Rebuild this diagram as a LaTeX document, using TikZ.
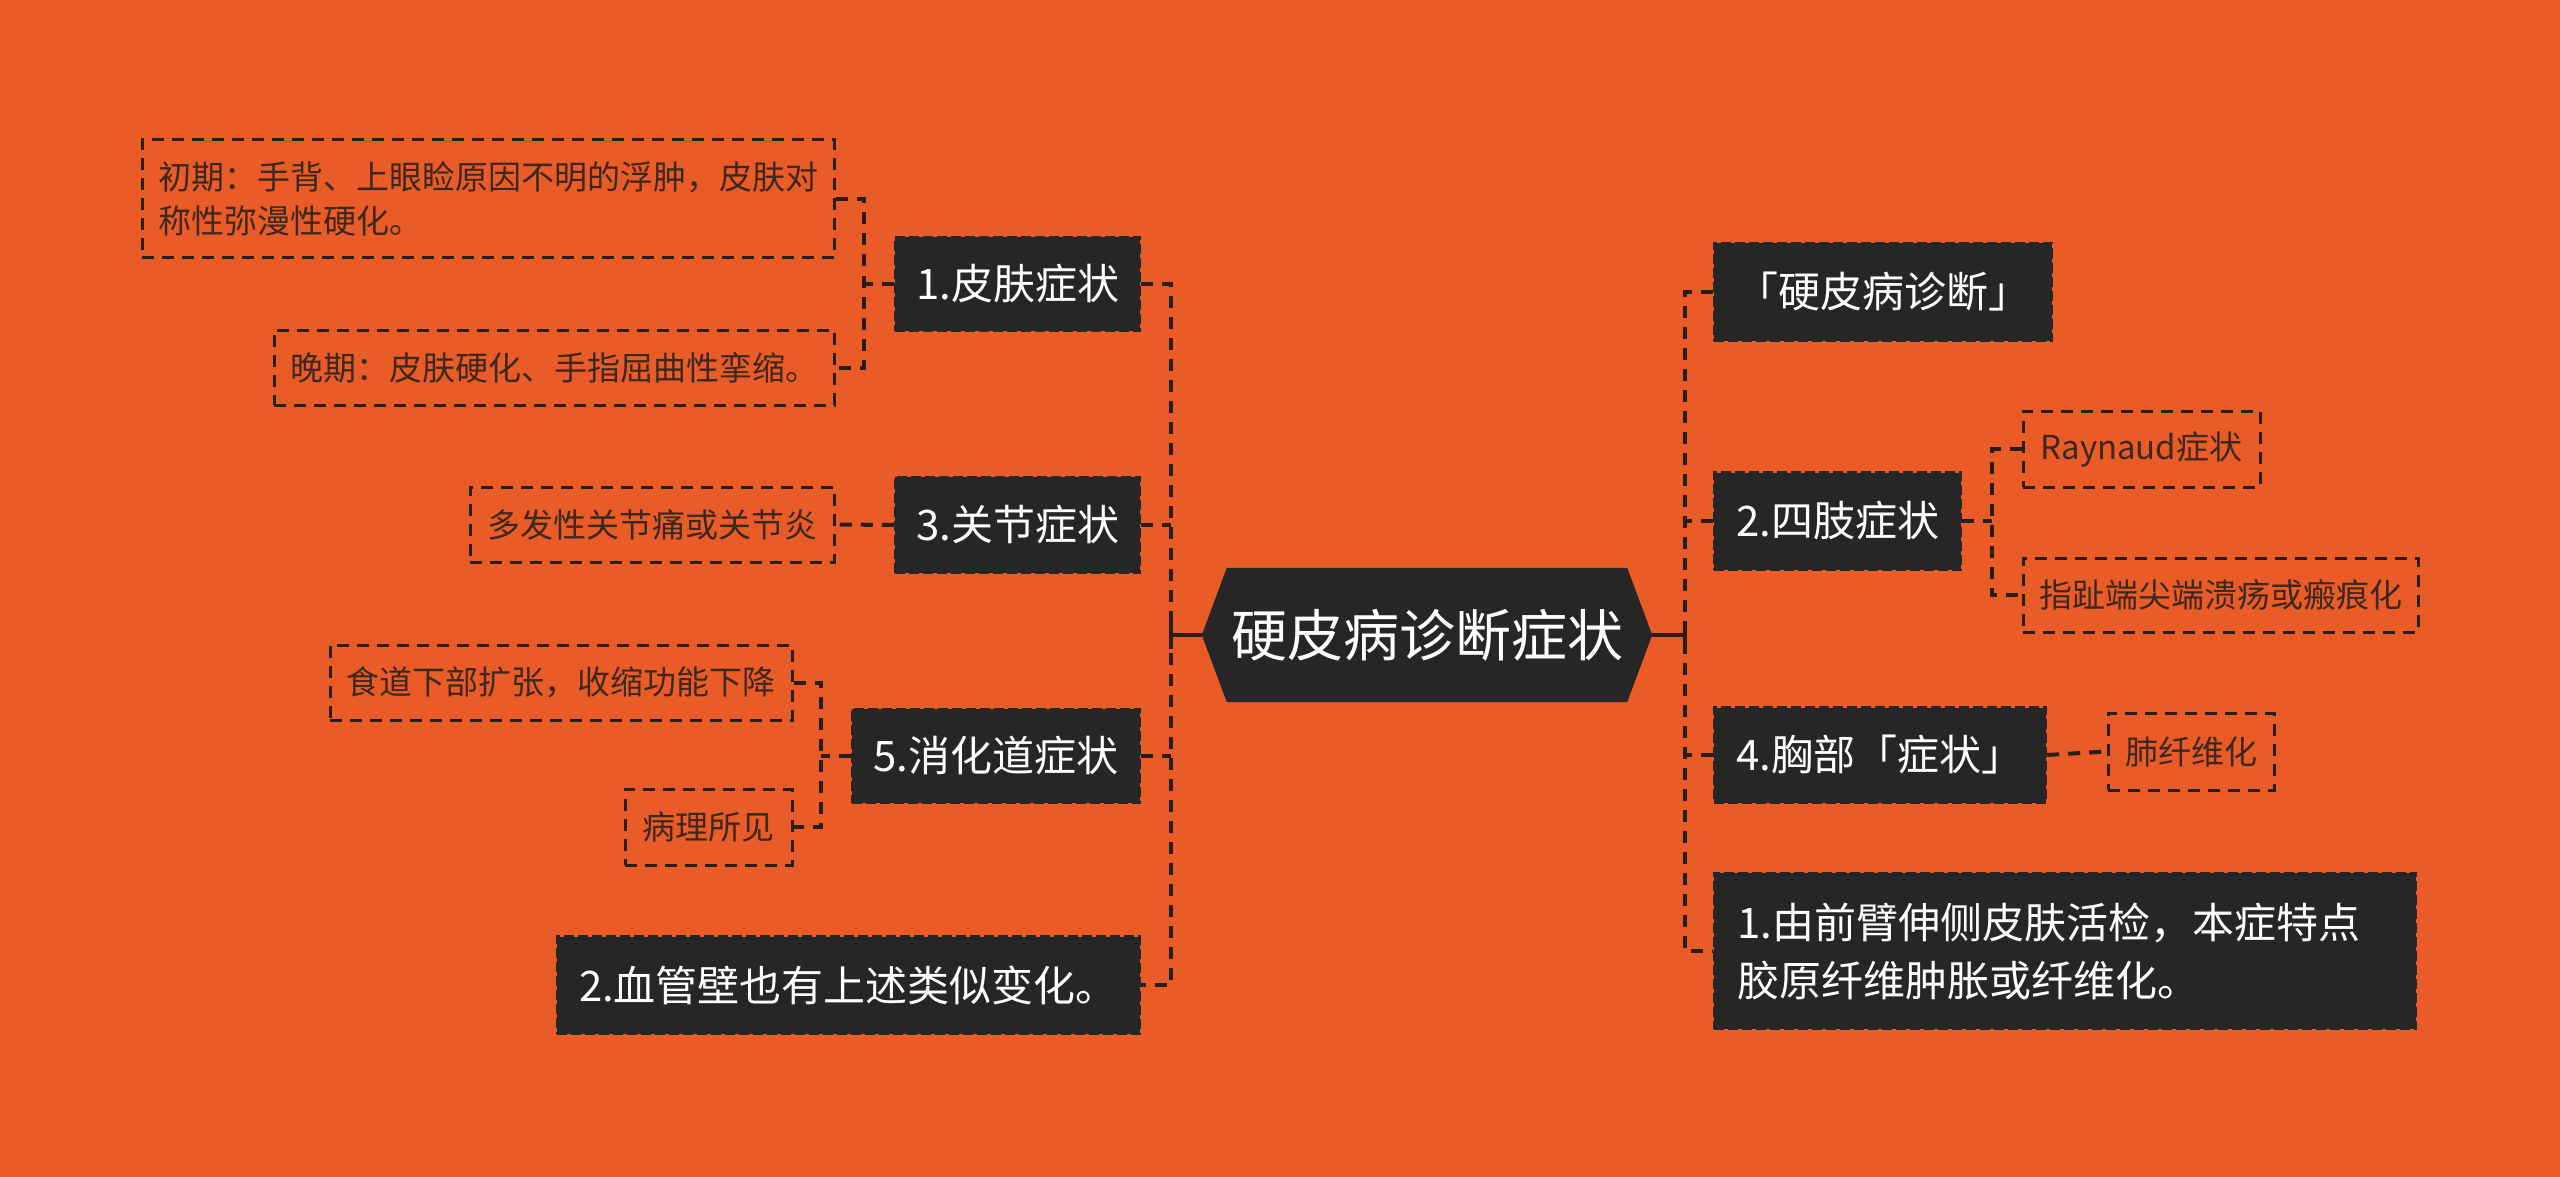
\documentclass[tikz,border=0pt]{standalone}
\usepackage{fontspec}
\setmainfont{Noto Sans CJK SC}
\usetikzlibrary{calc}
\definecolor{bgc}{RGB}{233,92,39}
\definecolor{dark}{RGB}{38,38,38}
\definecolor{leaftext}{RGB}{62,40,28}
\definecolor{linec}{RGB}{42,30,24}
\pgfdeclarelayer{back}
\pgfdeclarelayer{mid}
\pgfsetlayers{back,mid,main}
\tikzset{
  darkbox/.style={fill=dark, draw=dark, dash pattern=on 10pt off 4pt, line width=2.5pt, text=white, font=\fontsize{42}{58}\selectfont, inner sep=0pt},
  leafbox/.style={draw=linec, dash pattern=on 12pt off 8pt, line width=3pt, text=leaftext, font=\fontsize{33}{44}\selectfont, inner sep=0pt},
  conn/.style={draw=linec, line width=4pt, dash pattern=on 12pt off 9pt},
  solidconn/.style={draw=linec, line width=4pt},
}
\begin{document}
\begin{tikzpicture}[x=1pt,y=-1pt]
\begin{pgfonlayer}{back}
\fill[bgc] (0,0) rectangle (2560,1177);
\end{pgfonlayer}
\useasboundingbox (0,0) rectangle (2560,1177);

% root
\node[minimum width=450, minimum height=134, inner sep=0pt, text=white, font=\fontsize{56}{60}\selectfont] (root) at (1427,635) {硬皮病诊断症状};
\begin{pgfonlayer}{mid}
\fill[dark] (root.west) -- ($(root.north west)+(25,0)$) -- ($(root.north east)+(-25,0)$) -- (root.east) -- ($(root.south east)+(-25,0)$) -- ($(root.south west)+(25,0)$) -- cycle;
\end{pgfonlayer}

% left main branches
\node[darkbox, minimum width=245, minimum height=94] (b1) at (1017.5,284) {1.皮肤症状};
\node[darkbox, minimum width=245, minimum height=96] (b3) at (1017.5,525) {3.关节症状};
\node[darkbox, minimum width=288, minimum height=94] (b5) at (996,756) {5.消化道症状};
\node[darkbox, minimum width=583, minimum height=97] (b2) at (848.5,985) {2.血管壁也有上述类似变化。};

% right main branches
\node[darkbox, minimum width=338, minimum height=97] (r1) at (1883,292) {「硬皮病诊断」};
\node[darkbox, minimum width=247, minimum height=97] (r2) at (1837.5,521) {2.四肢症状};
\node[darkbox, minimum width=332, minimum height=95] (r4) at (1880,755) {4.胸部「症状」};
\node[darkbox, minimum height=156, inner xsep=23pt, text width=656pt, align=left] (r5) at (2065,951) {1.由前臂伸侧皮肤活检，本症特点\\胶原纤维肿胀或纤维化。};

% leaves
\node[leafbox, minimum width=692, minimum height=118, align=left] (L1) at (488,199) {初期：手背、上眼睑原因不明的浮肿，皮肤对\\称性弥漫性硬化。};
\node[leafbox, minimum width=560, minimum height=75] (L2) at (554,367.5) {晚期：皮肤硬化、手指屈曲性挛缩。};
\node[leafbox, minimum width=364, minimum height=75] (L3) at (652,524.5) {多发性关节痛或关节炎};
\node[leafbox, minimum width=462, minimum height=75] (L4) at (561,682.5) {食道下部扩张，收缩功能下降};
\node[leafbox, minimum width=167, minimum height=76] (L5) at (708.5,827) {病理所见};
\node[leafbox, minimum width=237, minimum height=76] (R1) at (2141.5,449) {Raynaud症状};
\node[leafbox, minimum width=395, minimum height=74] (R2) at (2220.5,595) {指趾端尖端溃疡或瘢痕化};
\node[leafbox, minimum width=166, minimum height=77] (R3) at (2191,751.5) {肺纤维化};

% junctions
\coordinate (lj) at (1171,635);
\coordinate (rj) at (1685,635);
\coordinate (b1j) at (864,284);
\coordinate (b5j) at (821,756);
\coordinate (r2j) at (1992,521);

% root to trunks
\draw[solidconn] (root.west) -- (lj);
\draw[solidconn] ($(lj)+(0,-14)$) -- ($(lj)+(0,14)$);
\draw[solidconn] (root.east) -- (rj);
\draw[solidconn] ($(rj)+(0,-14)$) -- ($(rj)+(0,14)$);

% left trunk
\draw[conn] (b1.east) -- (b1.east -| lj) -- (b2.east -| lj) -- (b2.east);
\draw[conn] (b3.east) -- (b3.east -| lj);
\draw[conn] (b5.east) -- (b5.east -| lj);

% right trunk
\draw[conn] (r1.west) -- (r1.west -| rj) -- (r5.west -| rj) -- (r5.west);
\draw[conn] (r2.west) -- (r2.west -| rj);
\draw[conn] (r4.west) -- (r4.west -| rj);

% sub branches
\draw[conn] (b1.west) -- (b1j);
\draw[conn] (L1.east) -- (L1.east -| b1j) -- (L2.east -| b1j) -- (L2.east);
\draw[conn] (b3.west) -- (L3.east);
\draw[conn] (b5.west) -- (b5j);
\draw[conn] (L4.east) -- (L4.east -| b5j) -- (L5.east -| b5j) -- (L5.east);
\draw[conn] (r2.east) -- (r2j);
\draw[conn] (R1.west) -- (R1.west -| r2j) -- (R2.west -| r2j) -- (R2.west);
\draw[conn] (r4.east) -- (R3.west);
\end{tikzpicture}
\end{document}
